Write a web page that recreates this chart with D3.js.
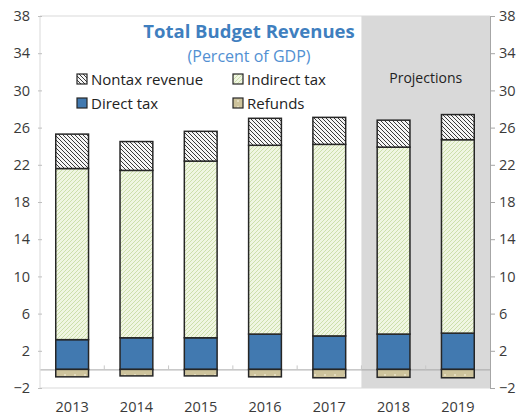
<!DOCTYPE html>
<html>
<head>
<meta charset="utf-8">
<script src="https://cdn.jsdelivr.net/npm/d3@7"></script>
<style>
  html, body { margin: 0; padding: 0; background: #fff; }
  svg { display: block; }
  text { font-family: "Open Sans", "Noto Sans", sans-serif; }
</style>
</head>
<body>
<svg id="chart" width="519" height="418"></svg>
<script>
// Budget revenue components, percent of GDP
const years = ["2013", "2014", "2015", "2016", "2017", "2018", "2019"];
const directTax = [3.2, 3.4, 3.4, 3.8, 3.6, 3.8, 3.9];
const indirectTax = [18.4, 18.0, 19.0, 20.3, 20.6, 20.1, 20.8];
const nontaxRevenue = [3.7, 3.1, 3.2, 2.9, 2.9, 2.9, 2.7];
const refunds = [-0.8, -0.7, -0.7, -0.8, -0.9, -0.85, -0.9];
const projectionYears = ["2018", "2019"];
const yTicks = [-2, 2, 6, 10, 14, 18, 22, 26, 30, 34, 38];
const seriesNames = ["Nontax revenue", "Indirect tax", "Direct tax", "Refunds"];

const svg = d3.select("#chart");
const plotLeft = 40, plotRight = 490, plotTop = 16, plotBottom = 388;

const x = d3.scaleBand().domain(years).range([plotLeft, plotRight])
  .paddingInner(0.49).paddingOuter(0.245);
const y = d3.scaleLinear().domain([-2, 38]).range([plotBottom, plotTop]);

// Fill patterns
const defs = svg.append("defs");
const pNontax = defs.append("pattern").attr("id", "pNontax")
  .attr("patternUnits", "userSpaceOnUse").attr("width", 4).attr("height", 4);
pNontax.append("rect").attr("width", 4).attr("height", 4).attr("fill", "#f6f6f6");
pNontax.append("path").attr("d", "M-1,-1 L5,5 M3,-1 L5,1 M-1,3 L1,5")
  .attr("stroke", "#3a3a3a").attr("stroke-width", 1);

const pIndirect = defs.append("pattern").attr("id", "pIndirect")
  .attr("patternUnits", "userSpaceOnUse").attr("width", 4).attr("height", 4);
pIndirect.append("rect").attr("width", 4).attr("height", 4).attr("fill", "#f0f6e2");
pIndirect.append("path").attr("d", "M-1,5 L5,-1 M-1,1 L1,-1 M3,5 L5,3")
  .attr("stroke", "#cddfab").attr("stroke-width", 1);

const pRefund = defs.append("pattern").attr("id", "pRefund")
  .attr("patternUnits", "userSpaceOnUse").attr("width", 10).attr("height", 6);
pRefund.append("rect").attr("width", 10).attr("height", 6).attr("fill", "#cdc39c");
pRefund.append("circle").attr("cx", 5).attr("cy", 3).attr("r", 0.9).attr("fill", "#efe9d2");

const fills = {
  "Nontax revenue": "url(#pNontax)",
  "Indirect tax": "url(#pIndirect)",
  "Direct tax": "#4179b0",
  "Refunds": "url(#pRefund)"
};

// Projection shading
const projStart = x(projectionYears[0]) - x.step() * x.paddingInner() / 2;
svg.append("rect")
  .attr("x", projStart).attr("y", plotTop)
  .attr("width", plotRight - projStart).attr("height", plotBottom - plotTop)
  .attr("fill", "#d9d9d9");

// Plot frame (light) on left, top, bottom
svg.append("path")
  .attr("d", `M${plotRight},${plotTop} L${plotLeft},${plotTop} L${plotLeft},${plotBottom} L${plotRight},${plotBottom}`)
  .attr("fill", "none").attr("stroke", "#d9d9d9").attr("stroke-width", 1);

// Left axis
const yAxisL = svg.append("g").attr("transform", `translate(${plotLeft},0)`)
  .call(d3.axisLeft(y).tickValues(yTicks).tickSize(4).tickSizeOuter(0).tickPadding(6));
yAxisL.select(".domain").remove();
yAxisL.selectAll(".tick line").attr("stroke", "#bfbfbf").attr("transform", "translate(2,0)");
yAxisL.selectAll(".tick text").attr("font-size", 14.5).attr("fill", "#3a3a3a")
  .attr("font-family", "'Open Sans', sans-serif");

// Right axis
const yAxisR = svg.append("g").attr("transform", `translate(${plotRight},0)`)
  .call(d3.axisRight(y).tickValues(yTicks).tickSize(5).tickSizeOuter(0).tickPadding(4));
yAxisR.select(".domain").attr("stroke", "#a6a6a6");
yAxisR.selectAll(".tick line").attr("stroke", "#a6a6a6");
yAxisR.selectAll(".tick text").attr("font-size", 14.5).attr("fill", "#3a3a3a")
  .attr("font-family", "'Open Sans', sans-serif");

// Zero line with category ticks
const xAxis = svg.append("g").attr("transform", `translate(0,${y(0)})`)
  .call(d3.axisTop(x).tickSize(0).tickFormat(""));
xAxis.select(".domain").attr("stroke", "#a6a6a6");
xAxis.selectAll(".tick").remove();
svg.append("g").selectAll("line")
  .data(years.slice(1))
  .join("line")
  .attr("x1", d => x(d) - x.step() * x.paddingInner() / 2)
  .attr("x2", d => x(d) - x.step() * x.paddingInner() / 2)
  .attr("y1", y(0)).attr("y2", y(0) - 4)
  .attr("stroke", "#c8c8c8");

// Year labels
const xLabels = svg.append("g").attr("transform", `translate(0,${plotBottom})`)
  .call(d3.axisBottom(x).tickSize(0).tickPadding(14));
xLabels.select(".domain").remove();
xLabels.selectAll(".tick text").attr("font-size", 14.5).attr("fill", "#3a3a3a")
  .attr("font-family", "'Open Sans', sans-serif");

// Stacked bars
const rows = years.map((yr, i) => ({
  year: yr,
  "Direct tax": directTax[i],
  "Indirect tax": indirectTax[i],
  "Nontax revenue": nontaxRevenue[i],
  "Refunds": refunds[i]
}));
const stack = d3.stack()
  .keys(["Direct tax", "Indirect tax", "Nontax revenue", "Refunds"])
  .offset(d3.stackOffsetDiverging);
const layers = stack(rows);

svg.append("g").selectAll("g")
  .data(layers)
  .join("g")
  .attr("fill", d => fills[d.key])
  .selectAll("rect")
  .data(d => d)
  .join("rect")
  .attr("x", d => x(d.data.year))
  .attr("width", x.bandwidth())
  .attr("y", d => y(Math.max(d[0], d[1])))
  .attr("height", d => Math.abs(y(d[0]) - y(d[1])))
  .attr("stroke", "#262626")
  .attr("stroke-width", 1.5);

// Title
svg.append("text").attr("x", 249).attr("y", 38).attr("text-anchor", "middle")
  .attr("font-size", 18.5).attr("font-weight", "bold").attr("fill", "#3f7fbf")
  .text("Total Budget Revenues");
svg.append("text").attr("x", 249).attr("y", 62).attr("text-anchor", "middle")
  .attr("font-size", 16).attr("fill", "#5290d2")
  .text("(Percent of GDP)");

// Legend
const legendPos = [[77, 80], [233, 80], [77, 104], [233, 104]];
const legend = svg.append("g").selectAll("g")
  .data(seriesNames)
  .join("g")
  .attr("transform", (d, i) => `translate(${legendPos[i][0]},${legendPos[i][1]})`);
legend.append("rect").attr("x", 0).attr("y", -6).attr("width", 10).attr("height", 10)
  .attr("fill", d => fills[d]).attr("stroke", "#262626").attr("stroke-width", 1.2);
legend.append("text").attr("x", 14).attr("y", 0).attr("dy", "0.35em")
  .attr("font-size", 15).attr("fill", "#222").text(d => d);

// Projections label
svg.append("text").attr("x", (projStart + plotRight) / 2).attr("y", 78).attr("dy", "0.35em")
  .attr("text-anchor", "middle").attr("font-size", 14).attr("fill", "#222")
  .text("Projections");
</script>
</body>
</html>
